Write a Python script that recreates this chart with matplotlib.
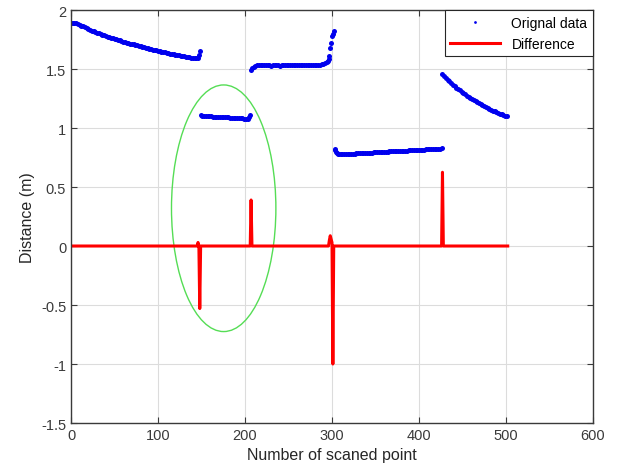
import matplotlib
matplotlib.use("Agg")
import matplotlib.pyplot as plt
from matplotlib.patches import Ellipse

# scanned distance (x = index of scanned point)
seg1_x = list(range(0, 146, 2)) + [146, 147, 148]
seg1_y = [1.890, 1.889, 1.888, 1.886, 1.882, 1.875, 1.868, 1.861, 1.855, 1.848,
          1.840, 1.833, 1.826, 1.819, 1.813, 1.807, 1.801, 1.795, 1.790, 1.785,
          1.780, 1.775, 1.770, 1.765, 1.760, 1.755, 1.751, 1.746, 1.742, 1.737,
          1.733, 1.728, 1.724, 1.720, 1.716, 1.712, 1.708, 1.704, 1.700, 1.696,
          1.692, 1.688, 1.684, 1.680, 1.676, 1.672, 1.668, 1.664, 1.661, 1.657,
          1.654, 1.650, 1.647, 1.643, 1.640, 1.637, 1.634, 1.630, 1.627, 1.624,
          1.621, 1.618, 1.615, 1.612, 1.610, 1.607, 1.604, 1.601, 1.599, 1.596,
          1.594, 1.592, 1.590,
          1.595, 1.620, 1.650]

seg2_x = list(range(149, 205, 2)) + [205, 206]
seg2_y = [1.110, 1.106, 1.104, 1.102, 1.100, 1.099, 1.098, 1.097, 1.096, 1.095,
          1.094, 1.093, 1.092, 1.091, 1.090, 1.091, 1.090, 1.088, 1.087, 1.086,
          1.085, 1.086, 1.084, 1.083, 1.081, 1.080, 1.078, 1.077,
          1.090, 1.110]

seg3_x = [207, 208, 210] + list(range(212, 288, 2)) + \
    [288, 290, 292, 294, 295, 296, 297, 298, 299, 300, 301, 302]
seg3_y = [1.495, 1.510, 1.520,
          1.527, 1.530, 1.531, 1.532, 1.532, 1.531, 1.530, 1.531, 1.530, 1.529,
          1.530, 1.530, 1.531, 1.530, 1.529, 1.530, 1.530, 1.531, 1.530, 1.530,
          1.531, 1.530, 1.530, 1.531, 1.530, 1.531, 1.532, 1.531, 1.532, 1.532,
          1.533, 1.533, 1.534, 1.534, 1.535, 1.536, 1.537, 1.538,
          1.540, 1.544, 1.550, 1.557, 1.570, 1.585, 1.610, 1.675, 1.720, 1.777,
          1.800, 1.825]

seg4_x = [303, 304, 305, 306, 307] + list(range(308, 428, 2))
seg4_y = [0.820, 0.810, 0.800, 0.790, 0.783,
          0.777, 0.777, 0.778, 0.779, 0.780, 0.781, 0.781, 0.782, 0.783, 0.784,
          0.785, 0.786, 0.786, 0.787, 0.788, 0.789, 0.790, 0.791, 0.791, 0.792,
          0.793, 0.794, 0.795, 0.796, 0.796, 0.797, 0.798, 0.799, 0.800, 0.801,
          0.801, 0.802, 0.803, 0.804, 0.805, 0.806, 0.806, 0.807, 0.808, 0.809,
          0.810, 0.811, 0.811, 0.812, 0.813, 0.814, 0.815, 0.816, 0.816, 0.817,
          0.818, 0.819, 0.820, 0.821, 0.821, 0.822, 0.823, 0.824, 0.826, 0.830]

seg5_x = list(range(427, 503, 2))
seg5_y = [1.458, 1.440, 1.425, 1.410, 1.395, 1.381, 1.367, 1.354, 1.342, 1.330,
          1.318, 1.306, 1.295, 1.285, 1.275, 1.265, 1.255, 1.246, 1.238, 1.230,
          1.220, 1.210, 1.201, 1.193, 1.185, 1.177, 1.169, 1.162, 1.155, 1.148,
          1.141, 1.134, 1.127, 1.121, 1.115, 1.109, 1.104, 1.099]

# difference between neighbouring scan points
diff_x = [0, 145, 146, 147, 148, 149, 206, 207, 208, 296, 297, 298, 300,
          301, 302, 426, 427, 428, 502]
diff_y = [0, 0, 0.03, 0.0, -0.53, 0, 0, 0.39, 0, 0, 0.05, 0.087, 0.03,
          -1.0, 0, 0, 0.625, 0, 0]

plt.rcParams['font.family'] = ['Liberation Sans', 'DejaVu Sans']

fig = plt.figure(figsize=(6.18, 4.77), dpi=100)
ax = fig.add_axes([0.1149, 0.1111, 0.8446, 0.8658])

orig_x = seg1_x + seg2_x + seg3_x + seg4_x + seg5_x
orig_y = seg1_y + seg2_y + seg3_y + seg4_y + seg5_y
ax.plot(orig_x, orig_y, linestyle='none', marker='o', markersize=3.6,
        markeredgewidth=0, color='#0000ee', label='Orignal data')
ax.plot(diff_x, diff_y, color='#ff0000', linewidth=2.2, label='Difference')

ax.add_patch(Ellipse((175.5, 0.32), 120, 2.09, fill=False,
                     edgecolor='#55dd55', linewidth=1))

ax.set_xlim(0, 600)
ax.set_ylim(-1.5, 2)
ax.set_xticks([0, 100, 200, 300, 400, 500, 600])
ax.set_yticks([-1.5, -1, -0.5, 0, 0.5, 1, 1.5, 2])
ax.set_yticklabels(['-1.5', '-1', '-0.5', '0', '0.5', '1', '1.5', '2'])
ax.grid(True, color='#dcdcdc', linewidth=0.8)
ax.set_axisbelow(True)
ax.tick_params(direction='in', top=True, right=True, length=4,
               labelsize=10.5, colors='#3a3a3a')
for spine in ax.spines.values():
    spine.set_color('#3a3a3a')
    spine.set_linewidth(1)

ax.set_xlabel('Number of scaned point', fontsize=11.5, color='#262626')
ax.set_ylabel('Distance (m)', fontsize=11.5, color='#262626')

leg = ax.legend(loc='upper right', borderaxespad=0, fontsize=10,
                handlelength=3.6, markerscale=0.55, fancybox=False,
                framealpha=1, edgecolor='#262626')
leg.get_frame().set_linewidth(0.8)

fig.savefig('out.png', dpi=100)
